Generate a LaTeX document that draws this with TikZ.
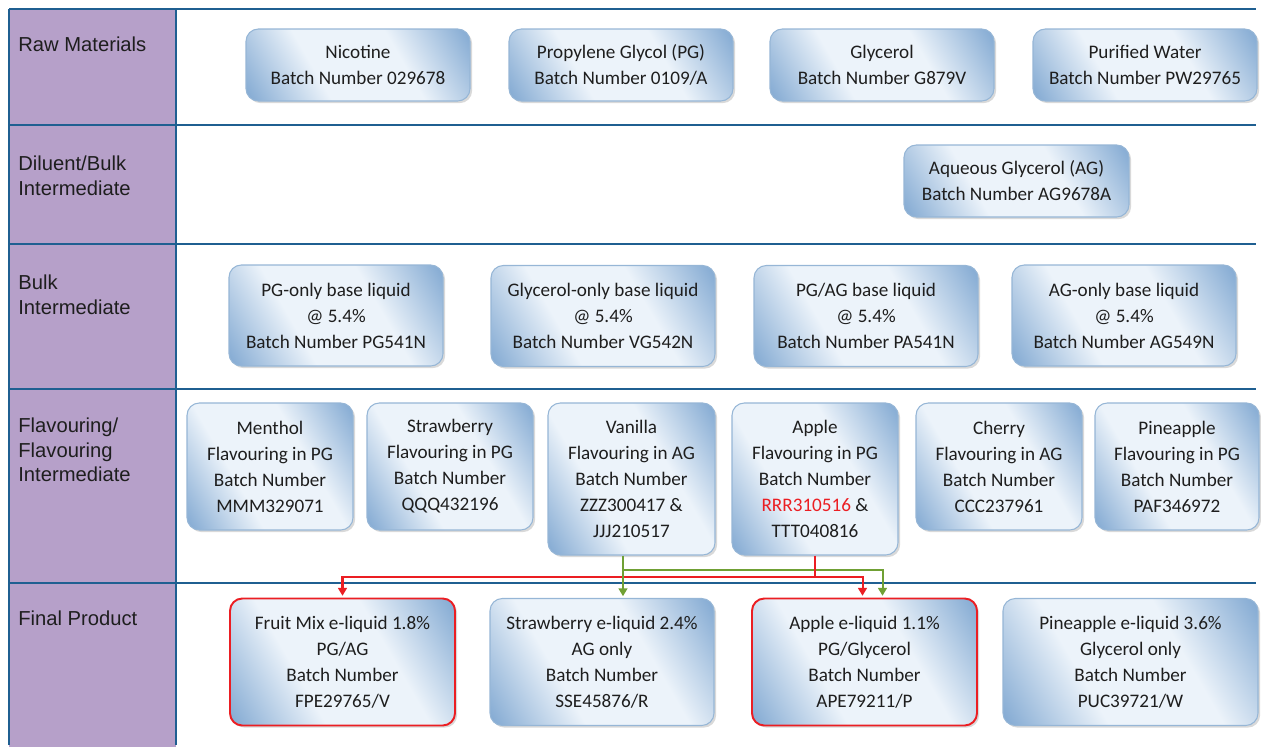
\documentclass[tikz,border=0pt]{standalone}
\usepackage{fontspec}
\setmainfont{Carlito}
\newfontfamily\arialfont{Liberation Sans}
\usetikzlibrary{arrows.meta,shadows}

\definecolor{stagepurple}{RGB}{182,160,201}
\definecolor{tableblue}{RGB}{31,95,145}
\definecolor{boxdark}{RGB}{130,169,210}
\definecolor{boxlight}{RGB}{236,243,250}
\definecolor{boxline}{RGB}{150,182,214}
\definecolor{flowred}{RGB}{235,30,35}
\definecolor{flowgreen}{RGB}{112,160,52}
\definecolor{textgray}{RGB}{30,30,30}
\newcommand{\px}{0.02cm}
\pgfdeclareverticalshading{batchshade}{100bp}{color(0bp)=(boxdark); color(16bp)=(boxdark);
	color(38bp)=(boxlight); color(62bp)=(boxlight); color(84bp)=(boxdark); color(100bp)=(boxdark)}

\begin{document}
\begin{tikzpicture}[x=0.02cm,y=-0.02cm,shorten >=1pt,
		table line/.style = {tableblue, line width=1.1pt},
		stage label/.style = {anchor=north west, inner sep=0pt, align=left, text=textgray,
			font=\arialfont\fontsize{11.5}{13.7}\selectfont},
		batch node/.style = {rounded corners=7pt, draw=boxline, line width=0.6pt,
			shade, shading=batchshade, shading angle=-60,
			drop shadow={shadow xshift=1.2pt, shadow yshift=-1.2pt, opacity=0.3},
			align=center, inner sep=0pt, text=textgray, font=\fontsize{10.9}{14.8}\selectfont},
		final node/.style = {batch node, draw=flowred, line width=1.1pt},
		red flow/.style = {flowred, line width=1.15pt, -{Triangle[length=4.5pt,width=5pt]}},
		green flow/.style = {flowgreen, line width=1.15pt, -{Triangle[length=4.5pt,width=5pt]}}]
		
		\useasboundingbox (0,0) rectangle (1261,747);
		\fill[stagepurple] (9,9) rectangle (176,747);
		\foreach \y in {9,125,244,389,583}
			\draw[table line] (9,\y) -- (1258,\y);
		\foreach \x in {9,176}
			\draw[table line] (\x,9) -- (\x,747);
		
		\node[stage label] (raw) at (18,37) {Raw Materials};
		\node[stage label] (diluent) at (18,156) {Diluent/Bulk\\Intermediate};
		\node[stage label] (bulk) at (18,275) {Bulk\\Intermediate};
		\node[stage label] (flavouring) at (18,418) {Flavouring/\\Flavouring\\Intermediate};
		\node[stage label] (final) at (18,611) {Final Product};
		
		\node[batch node, minimum width=224*\px, minimum height=72*\px] (nicotine) at (358,65) {Nicotine\\Batch Number 029678};
		\node[batch node, minimum width=224*\px, minimum height=72*\px] (pg) at (621,65) {Propylene Glycol (PG)\\Batch Number 0109/A};
		\node[batch node, minimum width=224*\px, minimum height=72*\px] (glycerol) at (882,65) {Glycerol\\Batch Number G879V};
		\node[batch node, minimum width=224*\px, minimum height=72*\px] (water) at (1145,65) {Purified Water\\Batch Number PW29765};
		
		\node[batch node, minimum width=225*\px, minimum height=72*\px] (ag) at (1016.5,181) {Aqueous Glycerol (AG)\\Batch Number AG9678A};
		
		\node[batch node, minimum width=214*\px, minimum height=101*\px] (pgbase) at (336,315.5) {PG-only base liquid\\@ 5.4\%\\Batch Number PG541N};
		\node[batch node, minimum width=224*\px, minimum height=101*\px] (vgbase) at (603,316) {Glycerol-only base liquid\\@ 5.4\%\\Batch Number VG542N};
		\node[batch node, minimum width=224*\px, minimum height=101*\px] (pabase) at (866,316) {PG/AG base liquid\\@ 5.4\%\\Batch Number PA541N};
		\node[batch node, minimum width=224*\px, minimum height=101*\px] (agbase) at (1124,315.5) {AG-only base liquid\\@ 5.4\%\\Batch Number AG549N};
		
		\node[batch node, minimum width=166*\px, minimum height=127*\px] (menthol) at (270,466.5) {Menthol\\Flavouring in PG\\Batch Number\\MMM329071};
		\node[batch node, minimum width=166*\px, minimum height=127*\px] (strawberry) at (450,466.5) {Strawberry\\Flavouring in PG\\Batch Number\\QQQ432196};
		\node[batch node, minimum width=167*\px, minimum height=152*\px] (vanilla) at (631.5,479) {Vanilla\\Flavouring in AG\\Batch Number\\ZZZ300417 \&\\JJJ210517};
		\node[batch node, minimum width=166*\px, minimum height=152*\px] (apple) at (815,479) {Apple\\Flavouring in PG\\Batch Number\\{\color{flowred}RRR310516} \&\\TTT040816};
		\node[batch node, minimum width=166*\px, minimum height=127*\px] (cherry) at (999,466.5) {Cherry\\Flavouring in AG\\Batch Number\\CCC237961};
		\node[batch node, minimum width=164*\px, minimum height=127*\px] (pineapple) at (1177,466.5) {Pineapple\\Flavouring in PG\\Batch Number\\PAF346972};
		
		\node[final node, minimum width=225*\px, minimum height=127*\px] (fruitmix) at (342.5,662) {Fruit Mix e-liquid 1.8\%\\PG/AG\\Batch Number\\FPE29765/V};
		\node[batch node, minimum width=224*\px, minimum height=127*\px] (strawliquid) at (602,662) {Strawberry e-liquid 2.4\%\\AG only\\Batch Number\\SSE45876/R};
		\node[final node, minimum width=225*\px, minimum height=127*\px] (appleliquid) at (864.5,662) {Apple e-liquid 1.1\%\\PG/Glycerol\\Batch Number\\APE79211/P};
		\node[batch node, minimum width=255*\px, minimum height=127*\px] (pineliquid) at (1130.5,662) {Pineapple e-liquid 3.6\%\\Glycerol only\\Batch Number\\PUC39721/W};
		
		\coordinate (green split) at (623,570);
		\coordinate (red level) at (0,577);
		\path (apple.south |- red level) coordinate (red split);
		\draw[red flow] (red split) -| (fruitmix.north);
		\draw[red flow] (red split) -| ([xshift=-2*\px]appleliquid.north);
		\draw[green flow] (vanilla.south -| green split) -- (strawliquid.north -| green split);
		\draw[green flow] (green split) -| ([xshift=18*\px]appleliquid.north);
		\draw[red flow,-] (apple.south) -- ([yshift=-3*\px]red split);
		\end{tikzpicture}
\end{document}
